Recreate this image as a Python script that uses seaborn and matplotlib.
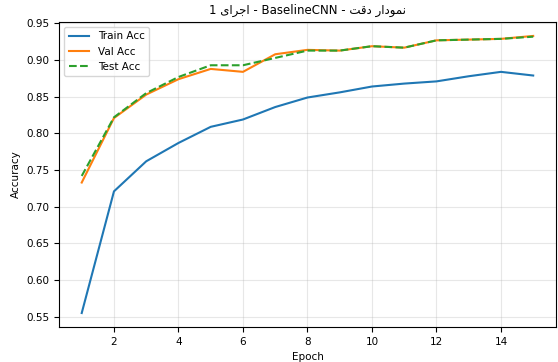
import matplotlib
matplotlib.use("Agg")
import matplotlib.pyplot as plt
import seaborn as sns
import pandas as pd

epochs = list(range(1, 16))
train_acc = [0.555, 0.721, 0.762, 0.787, 0.809, 0.819, 0.836, 0.849, 0.856, 0.864, 0.868, 0.871, 0.878, 0.884, 0.879]
val_acc = [0.733, 0.821, 0.853, 0.874, 0.888, 0.884, 0.908, 0.914, 0.913, 0.919, 0.917, 0.927, 0.928, 0.929, 0.933]
test_acc = [0.742, 0.822, 0.855, 0.877, 0.893, 0.893, 0.903, 0.913, 0.913, 0.919, 0.917, 0.927, 0.928, 0.929, 0.932]

# Persian title in visual (display) order with contextual presentation forms
ajra = "\u06CC\u0627\uFEAE\uFE9F\u0627"          # اجرای
deghat = "\uFE96\uFED7\u062F"                      # دقت
nemudar = "\u0631\u0627\u062F\uFEEE\uFEE4\uFEE7"   # نمودار
title = "1 " + ajra + " - BaselineCNN - " + deghat + " " + nemudar

df = pd.DataFrame({"Epoch": epochs, "train": train_acc, "val": val_acc, "test": test_acc})

fig = plt.figure(figsize=(5.58, 3.62), dpi=100)
ax = fig.add_axes([0.106, 0.097, 0.890, 0.842])

sns.lineplot(data=df, x="Epoch", y="train", ax=ax, label="Train Acc", color="#1f77b4", linewidth=1.5)
sns.lineplot(data=df, x="Epoch", y="val", ax=ax, label="Val Acc", color="#ff7f0e", linewidth=1.5)
sns.lineplot(data=df, x="Epoch", y="test", ax=ax, label="Test Acc", color="#2ca02c", linewidth=1.5, linestyle="--")

ax.set_title(title, fontsize=8.5, family=["DejaVu Sans"])
ax.set_xlabel("Epoch", fontsize=7.5)
ax.set_ylabel("Accuracy", fontsize=7.5)
ax.tick_params(labelsize=7.5)
ax.set_xticks([2, 4, 6, 8, 10, 12, 14])
ax.set_yticks([0.55, 0.60, 0.65, 0.70, 0.75, 0.80, 0.85, 0.90, 0.95])
ax.grid(True, alpha=0.3)
ax.legend(loc="upper left", fontsize=7.5)

fig.savefig("out.png", dpi=100)
